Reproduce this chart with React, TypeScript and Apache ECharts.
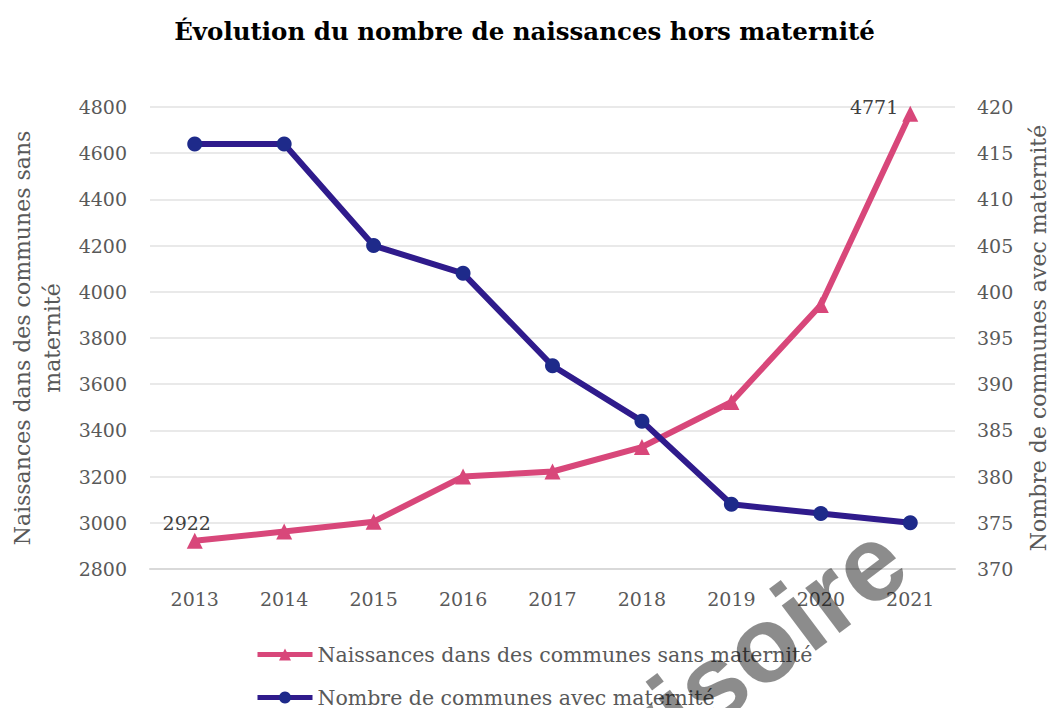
import React, { useEffect, useRef } from "react";
import * as echarts from "echarts";

const years = ["2013", "2014", "2015", "2016", "2017", "2018", "2019", "2020", "2021"];
const naissancesSansMaternite = [2922, 2962, 3005, 3200, 3222, 3328, 3523, 3943, 4771];
const communesAvecMaternite = [416, 416, 405, 402, 392, 386, 377, 376, 375];
const leftTicks = { min: 2800, max: 4800, interval: 200 };
const rightTicks = { min: 370, max: 420, interval: 5 };

const SERIF = "'DejaVu Serif', serif";
const PINK = "#D8477A";
const NAVY_LINE = "#2F1B8C";
const NAVY_MARK = "#1E2A8A";

export default function App() {
  const ref = useRef<HTMLDivElement>(null);
  useEffect(() => {
    document.body.style.margin = "0";
    const chart = echarts.init(ref.current!, null, { renderer: "svg" });
    const lastIdx = naissancesSansMaternite.length - 1;
    chart.setOption({
      animation: false,
      backgroundColor: "#ffffff",
      title: {
        text: "Évolution du nombre de naissances hors maternité",
        left: "center",
        top: 14,
        textStyle: { fontFamily: SERIF, fontWeight: "bold", fontSize: 24.5, color: "#000" },
      },
      grid: { left: 150, right: 94, top: 107, bottom: 139, containLabel: false, outerBoundsMode: "none" },
      legend: {
        orient: "vertical",
        left: 255,
        top: 644,
        height: 80,
        padding: 0,
        itemGap: 22,
        itemWidth: 55,
        itemHeight: 15,
        lineStyle: { width: 5 },
        textStyle: { fontFamily: SERIF, fontSize: 20.5, color: "#595959" },
        data: ["Naissances dans des communes sans maternité", "Nombre de communes avec maternité"],
      },
      xAxis: {
        type: "category",
        data: years,
        boundaryGap: true,
        axisLine: { lineStyle: { color: "#d9d9d9", width: 2 } },
        axisTick: { alignWithLabel: true, length: 7, lineStyle: { color: "#d9d9d9", width: 2 } },
        axisLabel: { fontFamily: SERIF, fontSize: 19, color: "#595959", margin: 20 },
      },
      yAxis: [
        {
          type: "value",
          min: leftTicks.min,
          max: leftTicks.max,
          interval: leftTicks.interval,
          name: "Naissances dans des communes sans\nmaternité",
          nameLocation: "middle",
          nameRotate: 90,
          nameGap: 83,
          nameTextStyle: { fontFamily: SERIF, fontSize: 22, color: "#595959", lineHeight: 30 },
          axisLine: { show: false },
          axisTick: { show: false },
          axisLabel: {
            fontFamily: SERIF,
            fontSize: 19,
            color: "#595959",
            margin: 23,
            formatter: (v: number) => String(v),
          },
          splitLine: { lineStyle: { color: "#e9e9e9", width: 2 } },
        },
        {
          type: "value",
          min: rightTicks.min,
          max: rightTicks.max,
          interval: rightTicks.interval,
          name: "Nombre de communes avec maternité",
          nameLocation: "middle",
          nameRotate: 90,
          nameGap: 72,
          nameTextStyle: { fontFamily: SERIF, fontSize: 22, color: "#595959" },
          axisLine: { show: false },
          axisTick: { show: false },
          axisLabel: {
            fontFamily: SERIF,
            fontSize: 19,
            color: "#595959",
            margin: 22,
            formatter: (v: number) => String(v),
          },
          splitLine: { show: false },
        },
      ],
      series: [
        {
          name: "Naissances dans des communes sans maternité",
          type: "line",
          yAxisIndex: 0,
          data: naissancesSansMaternite.map((v, i) => {
            if (i === 0) {
              return {
                value: v,
                label: { show: true, position: "top", offset: [-8, 5] },
              };
            }
            if (i === lastIdx) {
              return {
                value: v,
                label: { show: true, position: "left", distance: 4, offset: [0, -7] },
              };
            }
            return v;
          }),
          symbol: "triangle",
          symbolSize: 16,
          lineStyle: { color: PINK, width: 6 },
          itemStyle: { color: PINK },
          label: { show: false, fontFamily: SERIF, fontSize: 19, color: "#404040" },
          z: 3,
        },
        {
          name: "Nombre de communes avec maternité",
          type: "line",
          yAxisIndex: 1,
          data: communesAvecMaternite,
          symbol: "circle",
          symbolSize: 15,
          lineStyle: { color: NAVY_LINE, width: 6 },
          itemStyle: { color: NAVY_MARK },
          z: 4,
        },
      ],
      graphic: [
        {
          type: "text",
          x: 474,
          y: 862,
          rotation: (37 * Math.PI) / 180,
          z: 100,
          silent: true,
          style: {
            text: "Provisoire",
            font: "bold 107px 'Liberation Sans', Arial, sans-serif",
            fill: "rgba(0,0,0,0.45)",
            textAlign: "left",
            textVerticalAlign: "middle",
          },
        },
      ],
    });
    return () => chart.dispose();
  }, []);
  return <div ref={ref} style={{ width: 1049, height: 708 }} />;
}
